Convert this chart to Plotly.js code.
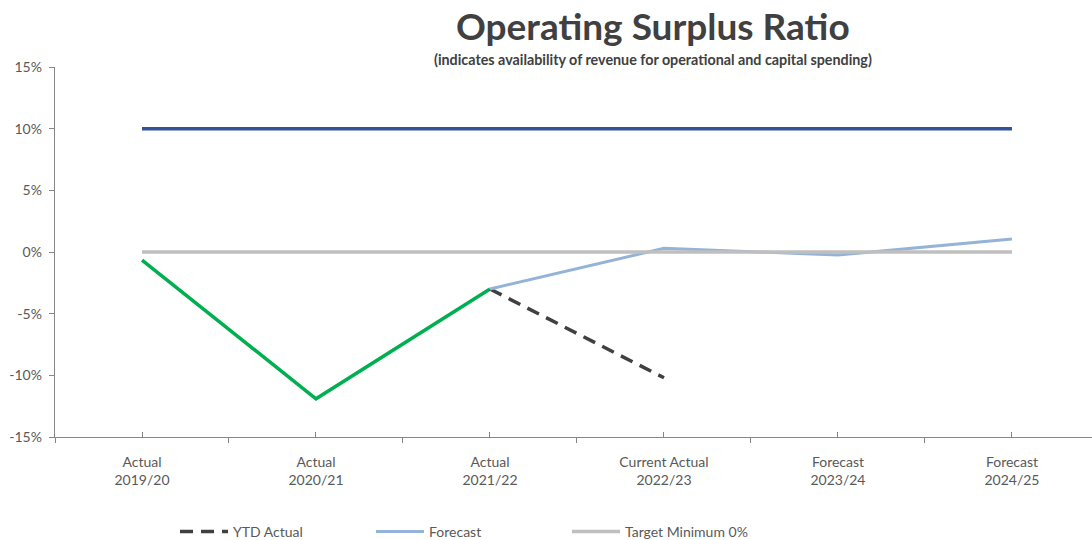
<!DOCTYPE html>
<html>
<head>
<meta charset="utf-8">
<script src="https://cdn.plot.ly/plotly-3.0.1.min.js"></script>
<style>html,body{margin:0;padding:0;overflow:hidden;background:#fff}#chart{width:1092px;height:540px}</style>
</head>
<body>
<div id="chart"></div>
<script>
const categories = ["Actual<br>2019/20", "Actual<br>2020/21", "Actual<br>2021/22", "Current Actual<br>2022/23", "Forecast<br>2023/24", "Forecast<br>2024/25"];
const actualValues = [-0.65, -11.9, -3.0, null, null, null];
const ytdActualValues = [null, null, -3.0, -10.2, null, null];
const forecastValues = [null, null, -3.0, 0.3, -0.25, 1.05];
const targetMinValues = [0, 0, 0, 0, 0, 0];
const targetMaxValues = [10, 10, 10, 10, 10, 10];
const yTickVals = [-15, -10, -5, 0, 5, 10, 15];
const yTickText = ["-15%", "-10%", "-5%", "0%", "5%", "10%", "15%"];

const FONT = "Lato, 'Open Sans', sans-serif";
const traces = [
  {x: categories, y: targetMaxValues, name: "Target Maximum 10%", mode: "lines", showlegend: false,
   line: {color: "#2F5597", width: 3.5}, hoverinfo: "skip"},
  {x: categories, y: actualValues, name: "Actual", mode: "lines", showlegend: false,
   line: {color: "#00B050", width: 3.5}},
  {x: categories, y: ytdActualValues, name: "YTD Actual", mode: "lines",
   line: {color: "#404040", width: 3.5, dash: "13px,8px"}},
  {x: categories, y: forecastValues, name: "Forecast", mode: "lines",
   line: {color: "#95B3D7", width: 3}},
  {x: categories, y: targetMinValues, name: "Target Minimum 0%", mode: "lines", xaxis: "x2",
   line: {color: "#BFBFBF", width: 3.5}}
];

const layout = {
  width: 1092, height: 540,
  margin: {l: 55, r: 0, t: 67, b: 103, pad: 0, autoexpand: false},
  paper_bgcolor: "#ffffff", plot_bgcolor: "#ffffff",
  font: {family: FONT, size: 14, color: "#595959"},
  showlegend: true,
  legend: {orientation: "h", x: (175 - 55) / 1037, xanchor: "left", y: (437 - 532) / 370, yanchor: "middle",
           itemwidth: 48, entrywidth: 133, entrywidthmode: "pixels", traceorder: "normal",
           font: {family: FONT, size: 14, color: "#595959"}, bgcolor: "rgba(0,0,0,0)"},
  xaxis: {type: "category", range: [-0.5, 5.46], showgrid: false, zeroline: false,
          showline: true, linecolor: "#868686", linewidth: 1.3,
          ticks: "outside", tickson: "boundaries", ticklen: 5, tickcolor: "#868686",
          ticklabelstandoff: 12,
          tickfont: {family: FONT, size: 14, color: "#595959"}, fixedrange: true},
  xaxis2: {type: "category", overlaying: "x", matches: "x", anchor: "y", side: "bottom", range: [-0.5, 5.46],
           showgrid: false, zeroline: false, showline: false, tickson: "labels",
           ticks: "inside", ticklen: 5, tickwidth: 1, tickcolor: "#868686", showticklabels: false},
  yaxis: {range: [-15, 15], tickmode: "array", tickvals: yTickVals, ticktext: yTickText,
          showgrid: false, zeroline: false, showline: true, linecolor: "#868686", linewidth: 1.3,
          ticks: "outside", ticklen: 5, tickcolor: "#868686", ticklabelstandoff: 4,
          tickfont: {family: FONT, size: 14, color: "#595959"}, fixedrange: true},
  annotations: [
    {text: "<b>Operating Surplus Ratio</b>", xref: "paper", yref: "paper",
     x: (653 - 55) / 1037, y: (437 - 25) / 370, xanchor: "center", yanchor: "middle", showarrow: false,
     font: {family: FONT, size: 37, color: "#404040"}},
    {text: "<b>(indicates availability of revenue for operational and capital spending)</b>", xref: "paper", yref: "paper",
     x: (653 - 55) / 1037, y: (437 - 60) / 370, xanchor: "center", yanchor: "middle", showarrow: false,
     font: {family: FONT, size: 14.3, color: "#404040"}}
  ]
};

Plotly.newPlot("chart", traces, layout, {displayModeBar: false, staticPlot: true});
</script>
</body>
</html>
